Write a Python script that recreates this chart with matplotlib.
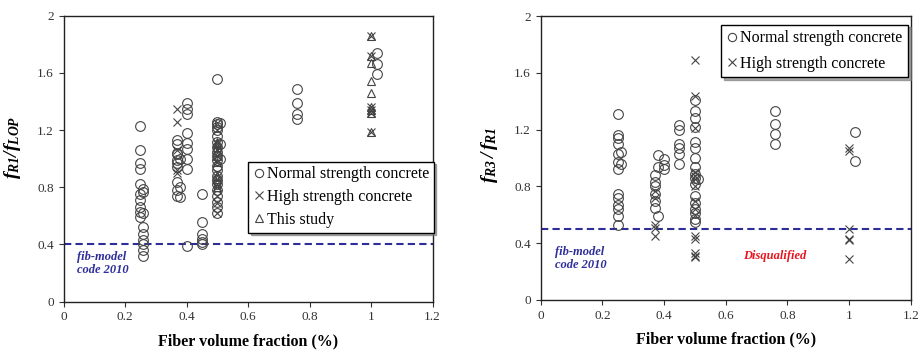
import numpy as np
import matplotlib
matplotlib.use('Agg')
import matplotlib.pyplot as plt

# --- fonts ---
plt.rcParams['font.family'] = ['Liberation Serif', 'DejaVu Serif']
plt.rcParams['mathtext.fontset'] = 'custom'
plt.rcParams['mathtext.it'] = 'Liberation Serif:bold:italic'
plt.rcParams['mathtext.rm'] = 'Liberation Serif:bold:italic'
plt.rcParams['mathtext.bf'] = 'Liberation Serif:bold:italic'

# --- data: left chart, f_R1/f_LOP ---
l_nsc_x = [0.25]*10 + [0.26]*9 + [0.37]*10 + [0.38]*3 + [0.40]*9 + [0.45]*6 + [0.50]*21 + [0.51]*3 + [0.76]*4 + [1.02]*3
l_nsc_y = [1.23, 1.06, 0.97, 0.93, 0.82, 0.75, 0.71, 0.66, 0.63, 0.59,
           0.79, 0.77, 0.62, 0.52, 0.47, 0.43, 0.40, 0.36, 0.32,
           1.13, 1.03, 0.99, 0.97, 0.94, 0.84, 0.78, 1.10, 1.04, 0.74,
           0.73, 0.80, 1.00,
           1.39, 1.35, 1.31, 1.18, 1.11, 1.07, 1.00, 0.93, 0.39,
           0.75, 0.56, 0.47, 0.44, 0.42, 0.40,
           1.56, 1.26, 1.24, 1.22, 1.20, 1.16, 1.12, 1.08, 1.05, 1.02, 0.99,
           0.95, 0.92, 0.88, 0.85, 0.82, 0.78, 0.74, 0.70, 0.66, 0.62,
           1.25, 1.10, 1.00,
           1.49, 1.39, 1.31, 1.28,
           1.74, 1.66, 1.59]
l_hsc_x = [0.37]*5 + [0.50]*12 + [1.00]*6
l_hsc_y = [1.35, 1.26, 1.06, 0.92, 0.90,
           1.25, 1.20, 1.10, 1.06, 1.02, 0.98, 0.90, 0.86, 0.80, 0.74, 0.69, 0.62,
           1.86, 1.72, 1.36, 1.34, 1.32, 1.19]
l_this_x = [0.50]*10 + [1.00]*9
l_this_y = [1.12, 1.10, 1.08, 1.05, 1.02, 0.98, 0.88, 0.86, 0.83, 0.80,
            1.86, 1.72, 1.67, 1.54, 1.46, 1.36, 1.34, 1.32, 1.19]

# --- data: right chart, f_R3/f_R1 ---
r_nsc_x = [0.25]*13 + [0.26]*2 + [0.37]*6 + [0.38]*3 + [0.40]*3 + [0.45]*6 + [0.50]*17 + [0.51] + [0.76]*4 + [1.02]*2
r_nsc_y = [1.31, 1.16, 1.14, 1.10, 1.03, 0.97, 0.92, 0.75, 0.72, 0.67, 0.64, 0.59, 0.53,
           1.04, 0.96,
           0.88, 0.83, 0.80, 0.75, 0.70, 0.65,
           1.02, 0.94, 0.59,
           0.99, 0.95, 0.92,
           1.23, 1.20, 1.10, 1.07, 1.03, 0.96,
           1.41, 1.33, 1.28, 1.22, 1.11, 1.07, 1.00, 0.94, 0.89, 0.86, 0.82,
           0.73, 0.68, 0.64, 0.61, 0.57, 0.55,
           0.85,
           1.33, 1.24, 1.17, 1.10,
           1.18, 0.98]
r_hsc_x = [0.37]*5 + [0.50]*15 + [1.00]*6
r_hsc_y = [0.77, 0.72, 0.53, 0.51, 0.45,
           1.69, 1.44, 1.21, 0.90, 0.87, 0.85, 0.80, 0.70, 0.64, 0.60, 0.45, 0.43, 0.33, 0.31, 0.30,
           1.07, 1.05, 0.50, 0.43, 0.42, 0.29]

fib_left = 0.4
fib_right = 0.5
xticks = [0, 0.2, 0.4, 0.6, 0.8, 1, 1.2]
yticks = [0, 0.4, 0.8, 1.2, 1.6, 2]

mk_col = '#444444'
line_col = '#2e2e9a'
shadow_kw = {'color': '0.45', 'alpha': 0.6}

fig = plt.figure(figsize=(9.22, 3.51), dpi=100)
ax1 = fig.add_axes([0.0689, 0.1405, 0.4002, 0.8148])
ax2 = fig.add_axes([0.5864, 0.1453, 0.4013, 0.809])


def style_axes(ax, ylabel, label_y):
    ax.set_xlim(0, 1.2)
    ax.set_ylim(0, 2)
    ax.set_xticks(xticks)
    ax.set_xticklabels(['0', '0.2', '0.4', '0.6', '0.8', '1', '1.2'])
    ax.set_yticks(yticks)
    ax.set_yticklabels(['0', '0.4', '0.8', '1.2', '1.6', '2'])
    ax.tick_params(direction='out', length=3.5, width=0.8, labelsize=9.5,
                   labelcolor='#333333', color='#333333')
    for s in ax.spines.values():
        s.set_linewidth(1.0)
        s.set_color('#222222')
    ax.set_xlabel('Fiber volume fraction (%)', fontsize=11.5, fontweight='bold', labelpad=7)
    ax.set_ylabel(ylabel, fontsize=14)
    ax.yaxis.set_label_coords(-0.11, label_y)


# 左图
ax1.axhline(fib_left, color=line_col, ls=(0, (3.5, 2)), lw=1.5, zorder=1)
ax1.plot(l_nsc_x, l_nsc_y, 'o', ms=7, mfc='none', mec=mk_col, mew=0.8,
         label='Normal strength concrete', zorder=3)
ax1.plot(l_hsc_x, l_hsc_y, 'x', ms=6, mec=mk_col, mew=0.8,
         label='High strength concrete', zorder=3)
ax1.plot(l_this_x, l_this_y, '^', ms=6, mfc='none', mec=mk_col, mew=0.8,
         label='This study', zorder=3)
ax1.text(0.045, 0.355, 'fib-model\ncode 2010', color=line_col, fontsize=9,
         fontstyle='italic', fontweight='bold', va='top', ha='left', linespacing=1.15)
style_axes(ax1, r'$f_{R1}/f_{LOP}$', 0.54)
leg1 = ax1.legend(loc='upper right', bbox_to_anchor=(1.003, 0.49), fontsize=11.5,
                  handlelength=0.7, handletextpad=0.15, labelspacing=0.42,
                  borderpad=0.3, borderaxespad=0, fancybox=False, shadow=shadow_kw,
                  markerscale=0.85)
leg1.get_frame().set_edgecolor('black')
leg1.get_frame().set_linewidth(1.0)

# 右图
ax2.axhline(fib_right, color=line_col, ls=(0, (3.5, 2)), lw=1.5, zorder=1)
ax2.plot(r_nsc_x, r_nsc_y, 'o', ms=7, mfc='none', mec=mk_col, mew=0.8,
         label='Normal strength concrete', zorder=3)
ax2.plot(r_hsc_x, r_hsc_y, 'x', ms=6, mec=mk_col, mew=0.8,
         label='High strength concrete', zorder=3)
ax2.text(0.048, 0.38, 'fib-model\ncode 2010', color=line_col, fontsize=9,
         fontstyle='italic', fontweight='bold', va='top', ha='left', linespacing=1.15)
ax2.text(0.76, 0.31, 'Disqualified', color='#e8141e', fontsize=9,
         fontstyle='italic', fontweight='bold', va='center', ha='center')
style_axes(ax2, r'$f_{R3}\,/\,f_{R1}$', 0.51)
leg2 = ax2.legend(loc='upper right', bbox_to_anchor=(0.993, 0.97), fontsize=11.5,
                  handlelength=0.7, handletextpad=0.15, labelspacing=0.6,
                  borderpad=0.35, borderaxespad=0, fancybox=False, shadow=shadow_kw,
                  markerscale=0.85)
leg2.get_frame().set_edgecolor('black')
leg2.get_frame().set_linewidth(1.0)

plt.savefig('out.png', dpi=100)
